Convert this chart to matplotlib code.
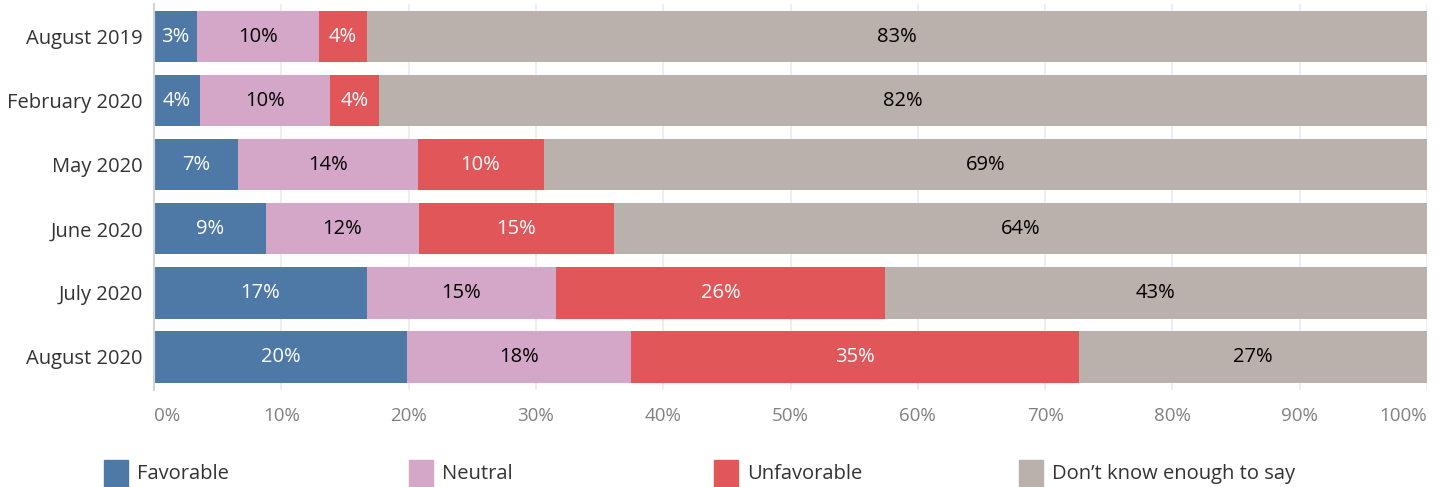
import matplotlib.pyplot as plt
from matplotlib.patches import Rectangle

plt.rcParams["font.family"] = ["Open Sans", "DejaVu Sans"]

# ==============================
# Data (share of respondents, %)
# ==============================
periods = ["August 2019", "February 2020", "May 2020", "June 2020", "July 2020", "August 2020"]
categories = ["Favorable", "Neutral", "Unfavorable", "Don\u2019t know enough to say"]

favorable = [3.4, 3.6, 6.6, 8.8, 16.7, 19.9]
neutral = [9.6, 10.2, 14.1, 12.0, 14.9, 17.6]
unfavorable = [3.7, 3.9, 9.9, 15.3, 25.8, 35.2]
dont_know = [83.3, 82.3, 69.4, 63.9, 42.6, 27.3]

fav_labels = ["3%", "4%", "7%", "9%", "17%", "20%"]
neu_labels = ["10%", "10%", "14%", "12%", "15%", "18%"]
unf_labels = ["4%", "4%", "10%", "15%", "26%", "35%"]
dk_labels = ["83%", "82%", "69%", "64%", "43%", "27%"]

colors = ["#4e79a7", "#d4a6c8", "#e15759", "#bab0ac"]
text_colors = ["white", "black", "white", "black"]

series = [favorable, neutral, unfavorable, dont_know]
labels = [fav_labels, neu_labels, unf_labels, dk_labels]

# ==============================
# Plot
# ==============================
fig = plt.figure(figsize=(14.4, 4.87), dpi=100)
ax = fig.add_axes([154 / 1440, 1 - 390 / 487, 1273 / 1440, 386 / 487])

y = list(range(len(periods)))
left = [0.0] * len(periods)
for vals, labs, col, tcol in zip(series, labels, colors, text_colors):
    ax.barh(y, vals, left=left, height=0.8, color=col, zorder=2)
    for yi, v, l, lab in zip(y, vals, left, labs):
        ax.text(l + v / 2, yi, lab, ha="center", va="center",
                color=tcol, fontsize=14.5, zorder=3)
    left = [a + b for a, b in zip(left, vals)]

ax.set_xlim(0, 100)
ax.set_ylim(5.515, -0.508)
ax.set_yticks(y)
ax.set_yticklabels(periods, fontsize=14.5, color="#333333")
ax.set_xticks(range(0, 101, 10))
xlabels = ax.set_xticklabels([f"{t}%" for t in range(0, 101, 10)], fontsize=13.5, color="#808080")
xlabels[0].set_ha("left")
xlabels[-1].set_ha("right")
ax.tick_params(axis="both", length=0)
ax.tick_params(axis="x", pad=12)
ax.tick_params(axis="y", pad=8)

ax.grid(axis="x", color="#ebebeb", linewidth=1.2, zorder=0)
for s in ["top", "right", "bottom"]:
    ax.spines[s].set_visible(False)
ax.spines["left"].set_color("#d4d4d4")
ax.spines["left"].set_linewidth(1.5)

# ==============================
# Legend along the bottom
# ==============================
for i, (cat, col) in enumerate(zip(categories, colors)):
    x0 = (104 + 305 * i) / 1440
    fig.add_artist(Rectangle((x0, 0.0), 24 / 1440, 27 / 487,
                             transform=fig.transFigure, color=col))
    fig.text(x0 + 33 / 1440, 13 / 487, cat, ha="left", va="center",
             fontsize=14.5, color="#333333")

fig.savefig("out.png", dpi=100)
